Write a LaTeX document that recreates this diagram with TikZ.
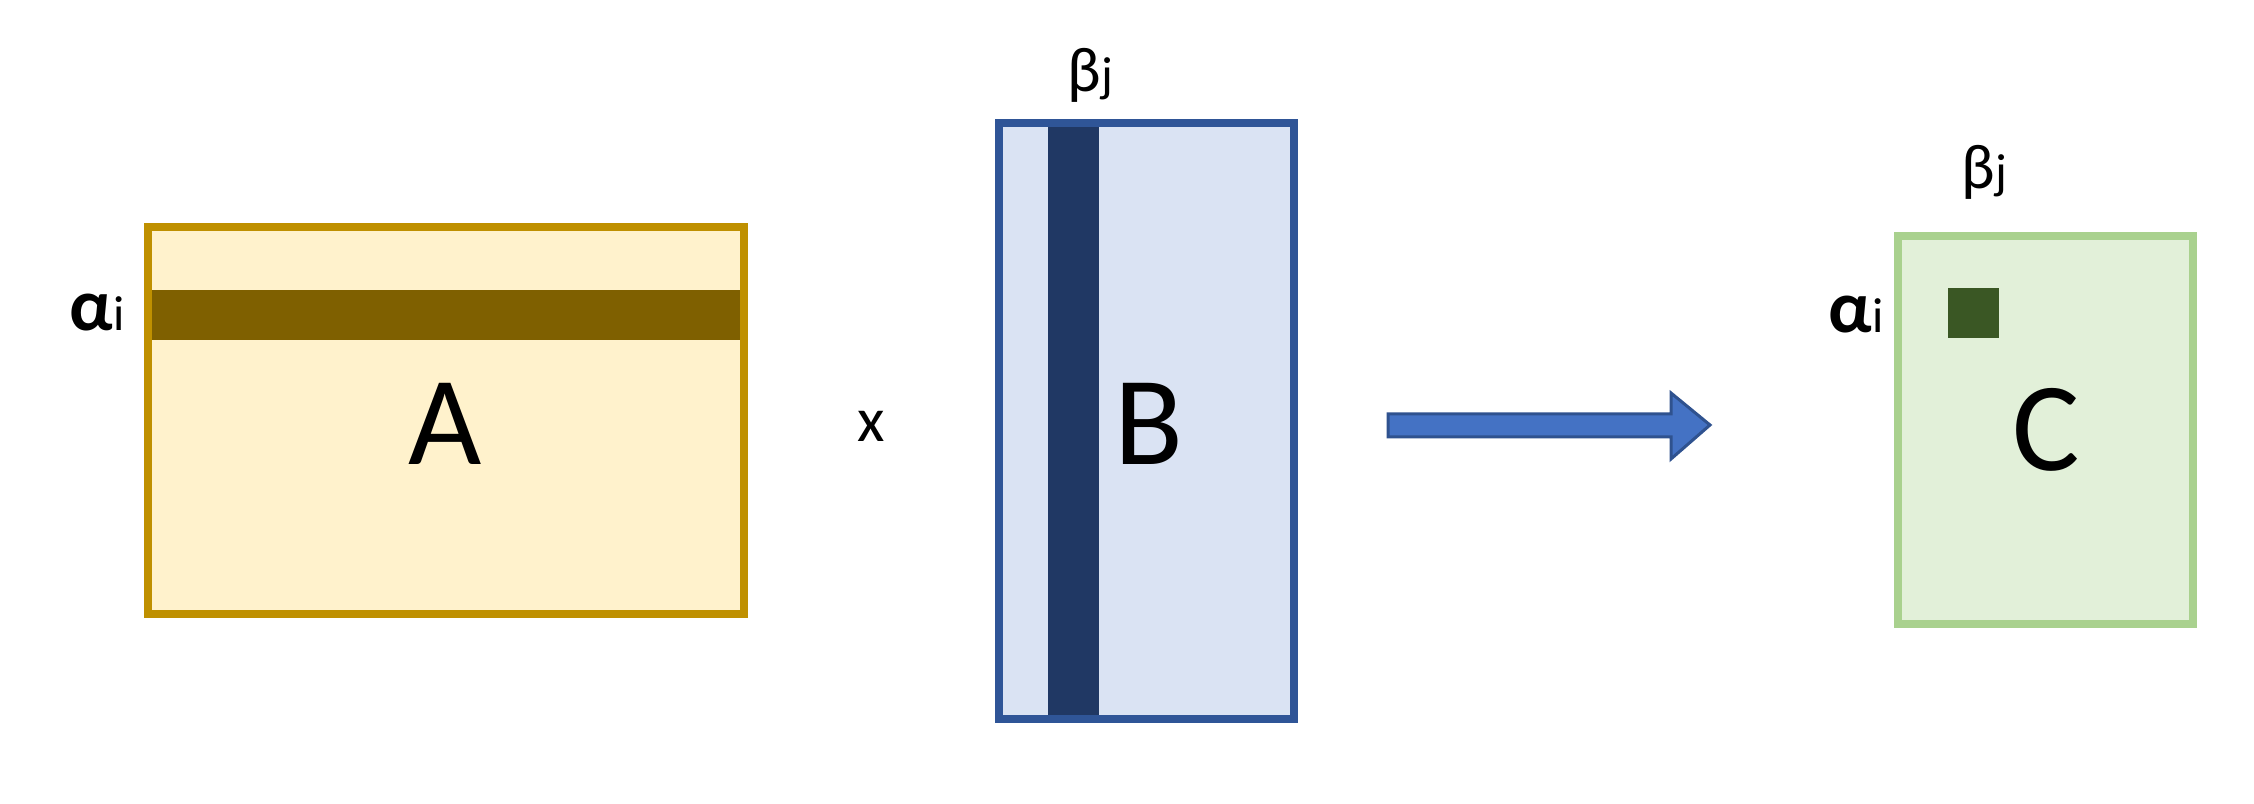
\documentclass[tikz,border=0pt]{standalone}
\usepackage{fontspec}
\setmainfont{Carlito}
\definecolor{aborder}{HTML}{BF9000}
\definecolor{afill}{HTML}{FFF2CC}
\definecolor{aband}{HTML}{7F6000}
\definecolor{bborder}{HTML}{2F5597}
\definecolor{bfill}{HTML}{DAE3F3}
\definecolor{bband}{HTML}{203864}
\definecolor{arrfill}{HTML}{4472C4}
\definecolor{arrborder}{HTML}{2F528F}
\definecolor{cborder}{HTML}{A9D18E}
\definecolor{cfill}{HTML}{E2F0D9}
\definecolor{cband}{HTML}{3A5724}
\newcommand{\alphai}{{\fontsize{21}{22}\selectfont\bfseries α}{\fontsize{14}{15}\selectfont i}}
\newcommand{\betaj}{{\fontsize{18}{20}\selectfont β}{\fontsize{14}{15}\selectfont j}}
\tikzset{
  mframe/.style={line width=0.08cm},
  small/.style={inner sep=0pt, font=\fontsize{18}{20}\selectfont},
  big/.style={inner sep=0pt, anchor=base, font=\fontsize{36}{40}\selectfont}
}
\begin{document}
\begin{tikzpicture}[x=0.01cm,y=-0.01cm]
\useasboundingbox (0,0) rectangle (2254,804);
% Matrix A
\fill[afill] (148,227) rectangle (744,614);
\fill[aband] (152,290) rectangle (741,340);
\draw[mframe,aborder] (148,227) rectangle (744,614);
\node[big] (A) at (445,465) {A};
\node[small,anchor=base west] (ai) at (69,331) {\alphai};
% times sign
\node[small,anchor=base] (times) at (871,442) {x};
% Matrix B
\fill[bfill] (999,123) rectangle (1294,719);
\fill[bband] (1048,127) rectangle (1099,718);
\draw[mframe,bborder] (999,123) rectangle (1294,719);
\node[big] (B) at (1149,465) {B};
\node[small,anchor=base west] (bj) at (1067,92) {\betaj};
% Arrow
\filldraw[fill=arrfill,draw=arrborder,line width=0.03cm,line join=miter]
  (1388,414) -- (1671,414) -- (1671,393) -- (1710,425) -- (1671,459) -- (1671,437) -- (1388,437) -- cycle;
% Matrix C
\fill[cfill] (1898,236) rectangle (2193,624);
\fill[cband] (1948,288) rectangle (1999,338);
\draw[mframe,cborder] (1898,236) rectangle (2193,624);
\node[big] (C) at (2046,471) {C};
\node[small,anchor=base west] (ci) at (1828,333) {\alphai};
\node[small,anchor=base west] (cj) at (1961,189) {\betaj};
\end{tikzpicture}
\end{document}
